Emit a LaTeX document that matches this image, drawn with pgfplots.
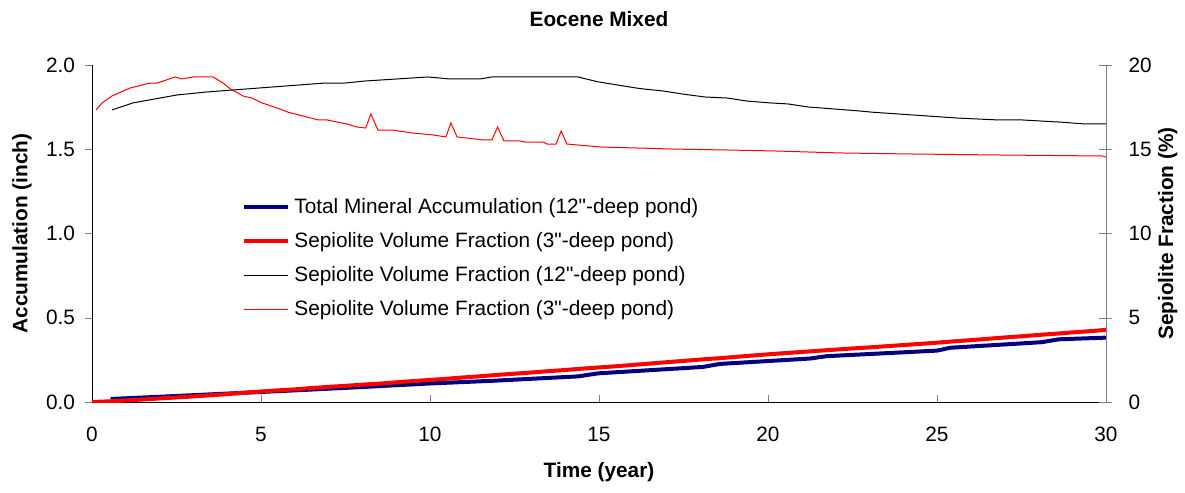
\documentclass[border=0pt]{standalone}
\usepackage{pgfplots}
\pgfplotsset{compat=1.18}
\usepackage{fontspec}
\setmainfont{Liberation Sans}
\newfontfamily\plainfont{Liberation Sans}
\newcommand{\qd}{{\plainfont"}}
\definecolor{navyb}{RGB}{0,0,128}
\newcommand{\fs}{\fontsize{10.4}{12.5}\selectfont}

\begin{document}
\begin{tikzpicture}
\path[use as bounding box] (-46pt,-45.5pt) rectangle (546.5pt,201pt);
\begin{axis}[
  at={(0,0)}, anchor=south west,
  scale only axis, width=507pt, height=168.5pt,
  xmin=0, xmax=30, ymin=0, ymax=2,
  axis x line*=bottom, axis y line*=left,
  xtick={0,5,...,30}, ytick={0,0.5,...,2},
  tick align=outside, major tick length=3.5pt,
  xtick style={yshift=3.5pt},
  /pgf/number format/assume math mode=true,
  yticklabel style={/pgf/number format/fixed, /pgf/number format/fixed zerofill, /pgf/number format/precision=1, xshift=-1.5pt},
  xticklabel style={yshift=-5.5pt},
  tick label style={font=\fs},
  title={Eocene Mixed},
  title style={at={(axis description cs:0.5,1.10)}, anchor=center, font=\bfseries\fs},
  xlabel={Time (year)},
  xlabel style={at={(axis description cs:0.5,-0.208)}, anchor=center, font=\bfseries\fs},
  ylabel={Accumulation (inch)},
  ylabel style={at={(axis description cs:-0.069,0.5)}, anchor=center, font=\bfseries\fs},
]
\addplot[navyb, line width=2pt] coordinates {
(0.55,0.018)(2,0.031)(4,0.050)(6,0.069)(8,0.089)(10,0.110)(11.86,0.126)(14.38,0.152)(14.97,0.170)
(18.07,0.208)(18.58,0.226)(21.24,0.258)(21.74,0.272)(25.0,0.305)(25.4,0.322)(28.1,0.355)(28.6,0.372)(30,0.382)};
\addplot[red, line width=2pt] coordinates {
(0,0)(0.5,0.004)(1,0.009)(1.5,0.015)(2,0.021)(2.5,0.027)(3,0.033)(3.5,0.040)(4,0.047)(4.5,0.055)
(5,0.062)(5.5,0.069)(6,0.075)(6.5,0.083)(7,0.090)(7.5,0.096)(8,0.103)(8.5,0.109)(9,0.117)(9.5,0.124)
(10,0.131)(10.5,0.138)(11,0.146)(11.5,0.153)(12,0.161)(12.5,0.168)(13,0.175)(13.5,0.183)(14,0.190)(14.5,0.198)
(15,0.205)(15.5,0.212)(16,0.220)(16.5,0.228)(17,0.236)(17.5,0.244)(18,0.252)(18.5,0.259)(19,0.267)(19.5,0.275)
(20,0.283)(20.5,0.290)(21,0.297)(21.5,0.304)(22,0.311)(22.5,0.318)(23,0.324)(23.5,0.331)(24,0.338)(24.5,0.345)
(25,0.352)(25.5,0.360)(26,0.367)(26.5,0.375)(27,0.383)(27.5,0.390)(28,0.398)(28.5,0.405)(29,0.413)(29.5,0.420)(30,0.428)};
\end{axis}
\begin{axis}[
  at={(0,0)}, anchor=south west,
  scale only axis, width=507pt, height=168.5pt,
  xmin=0, xmax=30, ymin=0, ymax=20,
  axis x line=none, axis y line*=right,
  y axis line style={draw=gray},
  ytick={0,5,...,20},
  tick align=center, major tick length=6.5pt,
  /pgf/number format/assume math mode=true,
  tick label style={font=\fs},
  yticklabel style={xshift=4.5pt},
  ylabel={Sepiolite Fraction (\%)},
  ylabel style={at={(axis description cs:1.061,0.5)}, anchor=center, font=\bfseries\fs},
  legend style={at={(axis description cs:0.142,0.63)}, anchor=north west, draw=none, fill=none,
    font=\fs, row sep=4pt, cells={anchor=west}},
  legend image code/.code={\draw[#1] (0pt,0pt) -- (22pt,0pt);},
]
\addlegendimage{navyb, line width=2pt}
\addlegendentry{Total Mineral Accumulation (12\qd-deep pond)}
\addlegendimage{red, line width=2pt}
\addlegendentry{Sepiolite Volume Fraction (3\qd-deep pond)}
\addplot[black, line width=0.5pt] coordinates {
(0.59,17.33)(1.21,17.75)(2.51,18.22)(3.40,18.40)(6.89,18.93)(7.49,18.93)(8.08,19.05)(9.94,19.29)(10.59,19.17)
(11.48,19.17)(11.83,19.29)(14.38,19.29)(14.97,19.00)(16.21,18.60)(16.89,18.46)(17.46,18.28)(18.14,18.10)
(18.79,18.04)(19.38,17.86)(20.06,17.75)(20.59,17.69)(21.18,17.51)(22.72,17.27)(23.08,17.20)(25.62,16.85)
(26.80,16.74)(27.51,16.74)(28.73,16.60)(29.38,16.50)(30,16.50)};
\addlegendentry{Sepiolite Volume Fraction (12\qd-deep pond)}
\addplot[red, line width=0.5pt] coordinates {
(0.12,17.33)(0.3,17.75)(0.59,18.16)(1.12,18.63)(1.72,18.93)(1.93,18.93)(2.46,19.29)(2.66,19.17)(2.99,19.29)
(3.58,19.29)(3.88,18.93)(4.08,18.60)(4.47,18.16)(4.73,18.04)(5.03,17.75)(5.56,17.39)(5.8,17.20)(6.69,16.74)
(6.95,16.74)(7.54,16.50)(7.84,16.32)(8.1,16.26)(8.25,17.09)(8.46,16.14)(8.88,16.14)(9.5,15.96)(10.09,15.85)
(10.47,15.73)(10.62,16.56)(10.8,15.73)(11.09,15.67)(11.57,15.55)(11.83,15.55)(12.0,16.32)(12.19,15.49)
(12.66,15.49)(12.81,15.43)(13.34,15.43)(13.46,15.31)(13.73,15.31)(13.88,16.08)(14.05,15.31)(14.38,15.25)
(15.09,15.13)(16.21,15.07)(17.19,15.01)(18.67,14.96)(20.15,14.90)(22.13,14.78)(24.2,14.72)(26.8,14.66)
(29.9,14.60)(30,14.54)};
\addlegendentry{Sepiolite Volume Fraction (3\qd-deep pond)}
\end{axis}
\end{tikzpicture}
\end{document}
